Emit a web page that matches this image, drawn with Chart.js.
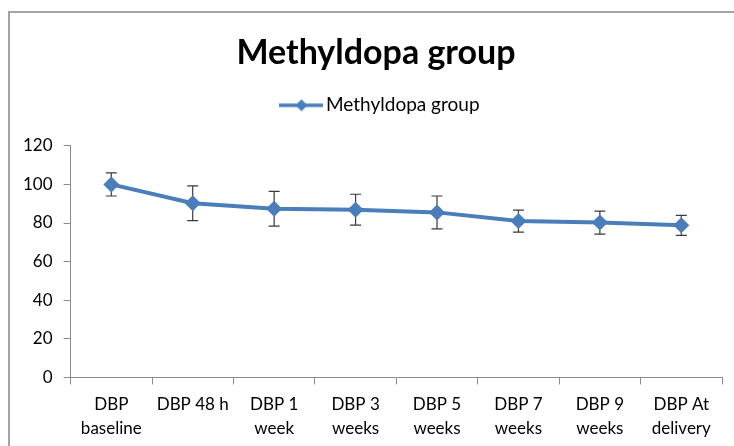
<!DOCTYPE html>
<html>
<head>
<meta charset="utf-8">
<script src="https://cdn.jsdelivr.net/npm/chart.js@4.4.0/dist/chart.umd.min.js"></script>
<style>
  body { margin: 0; background: #fff; }
  #wrap { position: relative; width: 734px; height: 446px; overflow: hidden; }
  #frame { position: absolute; left: 8px; top: 11px; width: 740px; height: 450px;
           border-left: 2px solid #a3a3a3; border-top: 2px solid #a3a3a3; pointer-events: none; }
</style>
</head>
<body>
<div id="wrap">
  <canvas id="myChart" width="734" height="448"></canvas>
  <div id="frame"></div>
</div>
<script>
const categories = [
  ['DBP', 'baseline'], ['DBP 48 h'], ['DBP 1', 'week'], ['DBP 3', 'weeks'],
  ['DBP 5', 'weeks'], ['DBP 7', 'weeks'], ['DBP 9', 'weeks'], ['DBP At', 'delivery']
];
const meanValues = [100, 90.2, 87.4, 86.9, 85.5, 81, 80.2, 78.8];
const errorValues = [6, 9, 9, 8, 8.5, 5.7, 6, 5.2];
const yTicks = [0, 20, 40, 60, 80, 100, 120];

const blue = '#4a7ebb';
const fontName = 'Lato, Carlito, "Liberation Sans", sans-serif';

// legend swatch: line with a diamond in the middle
function makeSwatch() {
  const c = document.createElement('canvas');
  c.width = 44; c.height = 14;
  const g = c.getContext('2d');
  g.strokeStyle = blue; g.lineWidth = 3.5;
  g.beginPath(); g.moveTo(0, 7); g.lineTo(44, 7); g.stroke();
  g.fillStyle = blue;
  g.beginPath(); g.moveTo(22, 1); g.lineTo(28, 7); g.lineTo(22, 13); g.lineTo(16, 7); g.closePath(); g.fill();
  return c;
}

const errorBars = {
  id: 'errorBars',
  beforeDatasetsDraw(chart) {
    const ctx = chart.ctx;
    const x = chart.scales.x, y = chart.scales.y;
    ctx.save();
    ctx.strokeStyle = '#3a3a3a';
    ctx.lineWidth = 1.2;
    meanValues.forEach((v, i) => {
      const px = x.getPixelForValue(i);
      const top = y.getPixelForValue(v + errorValues[i]);
      const bot = y.getPixelForValue(v - errorValues[i]);
      ctx.beginPath();
      ctx.moveTo(px, top); ctx.lineTo(px, bot);
      ctx.moveTo(px - 5.5, top); ctx.lineTo(px + 5.5, top);
      ctx.moveTo(px - 5.5, bot); ctx.lineTo(px + 5.5, bot);
      ctx.stroke();
    });
    ctx.restore();
  }
};

// extra room under the legend
const legendGap = {
  id: 'legendGap',
  beforeInit(chart) {
    const fit = chart.legend.fit;
    chart.legend.fit = function () {
      fit.bind(chart.legend)();
      this.height += 21;
    };
  }
};

// title and legend sit a little right of the canvas centre, like the original
const nudgeHeader = {
  id: 'nudgeHeader',
  afterLayout(chart) {
    if (chart.titleBlock) { chart.titleBlock.left += 9; chart.titleBlock.right += 9; }
    if (chart.legend) { chart.legend.left += 16; chart.legend.right += 16; }
  }
};

const ctx = document.getElementById('myChart').getContext('2d');
new Chart(ctx, {
  type: 'line',
  data: {
    labels: categories,
    datasets: [{
      label: 'Methyldopa group',
      data: meanValues,
      borderColor: blue,
      backgroundColor: blue,
      borderWidth: 4,
      pointStyle: 'rectRot',
      pointRadius: 8,
      pointHoverRadius: 8,
      pointBorderWidth: 0,
      tension: 0
    }]
  },
  options: {
    responsive: false,
    animation: false,
    layout: { padding: { top: 33, left: 12, right: 12, bottom: 0 } },
    plugins: {
      title: {
        display: true,
        text: 'Methyldopa group',
        color: '#000',
        font: { family: fontName, size: 34, weight: 'bold' },
        padding: { top: 0, bottom: 12 }
      },
      legend: {
        labels: {
          color: '#000',
          font: { family: fontName, size: 19 },
          usePointStyle: true,
          pointStyleWidth: 30,
          padding: 10,
          generateLabels: () => [{
            text: 'Methyldopa group',
            pointStyle: makeSwatch(),
            fontColor: '#000',
            datasetIndex: 0
          }]
        }
      },
      tooltip: { enabled: false }
    },
    scales: {
      y: {
        min: 0,
        max: 120,
        afterBuildTicks: axis => { axis.ticks = yTicks.map(v => ({ value: v })); },
        ticks: { color: '#000', padding: 11, font: { family: fontName, size: 17 } },
        grid: { drawOnChartArea: false, color: '#8c8c8c', tickLength: 7 },
        border: { color: '#8c8c8c' }
      },
      x: {
        offset: true,
        ticks: { color: '#000', maxRotation: 0, autoSkip: false, padding: 8,
                 font: { family: fontName, size: 17, lineHeight: 1.4 } },
        grid: { offset: true, drawOnChartArea: false, color: '#8c8c8c', tickLength: 7 },
        border: { color: '#8c8c8c' }
      }
    }
  },
  plugins: [errorBars, legendGap, nudgeHeader]
});
</script>
</body>
</html>
